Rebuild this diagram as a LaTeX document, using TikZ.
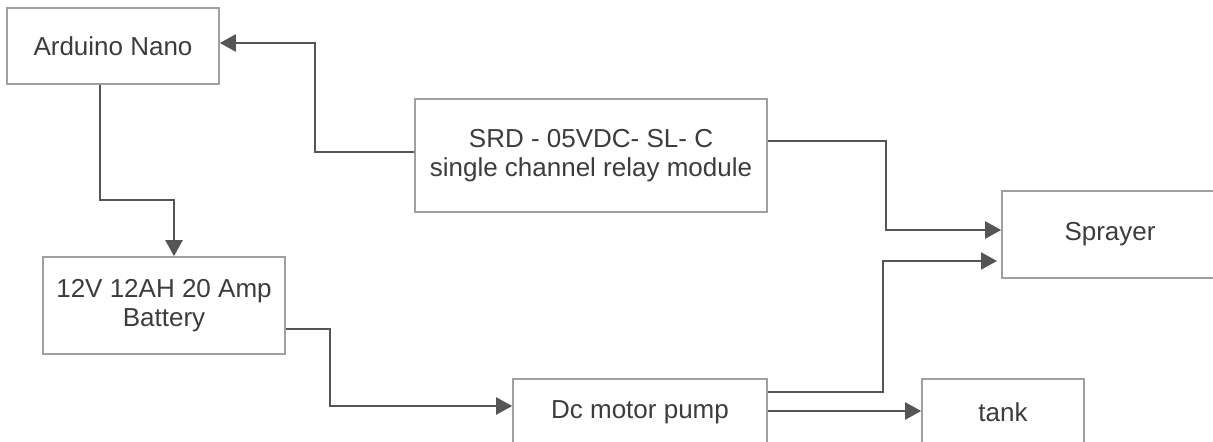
\documentclass[tikz,border=0pt]{standalone}
\usepackage{fontspec}
\setmainfont{Liberation Sans}
\usetikzlibrary{arrows.meta}
\definecolor{boxgray}{HTML}{A0A0A0}
\definecolor{linegray}{HTML}{555555}
\definecolor{textgray}{HTML}{3C3C3C}
\tikzset{
  box/.style={draw=boxgray,line width=0.8pt,text=textgray,align=center,
    inner sep=0pt,font=\fontsize{13}{14.5}\selectfont},
  flow/.style={draw=linegray,line width=1.1pt,-{Triangle[length=8pt,width=8.5pt]}}
}
\begin{document}
\begin{tikzpicture}[x=0.5pt,y=-0.5pt]
\clip (0,0) rectangle (1213,441);
\node[box,minimum width=106pt,minimum height=38pt] (arduino) at (113,46) {Arduino Nano};
\node[box,minimum width=176pt,minimum height=56.5pt] (relay) at (591,155.5) {SRD - 05VDC- SL- C\\single channel relay module};
\node[box,minimum width=121pt,minimum height=48.5pt] (battery) at (164,305.5) {12V 12AH 20 Amp\\Battery};
\node[box,minimum width=108pt,minimum height=43.5pt] (sprayer) at (1110,234.5) {Sprayer};
\node[box,minimum width=127pt,minimum height=33pt] (pump) at (640,412) {Dc motor pump};
\node[box,minimum width=81pt,minimum height=33pt] (tank) at (1003,412) {tank};
% relay to arduino
\draw[flow] (relay.west |- 0,152) -| (315,100) |- (arduino.east |- 0,43);
% arduino to battery
\draw[flow] (100,0 |- arduino.south) |- (174,200) -- (174,0 |- battery.north);
% battery to pump
\draw[flow] (battery.east |- 0,329) -| (330,406) -- (pump.west |- 0,406);
% to sprayer
\draw[flow] (relay.east |- 0,141) -| (886,230) -- (sprayer.west |- 0,230);
\draw[flow] (pump.east |- 0,392) -| (883,261) -- (997,261);
% to tank
\draw[flow] (pump.east |- 0,411) -- (tank.west |- 0,411);
\end{tikzpicture}
\end{document}
